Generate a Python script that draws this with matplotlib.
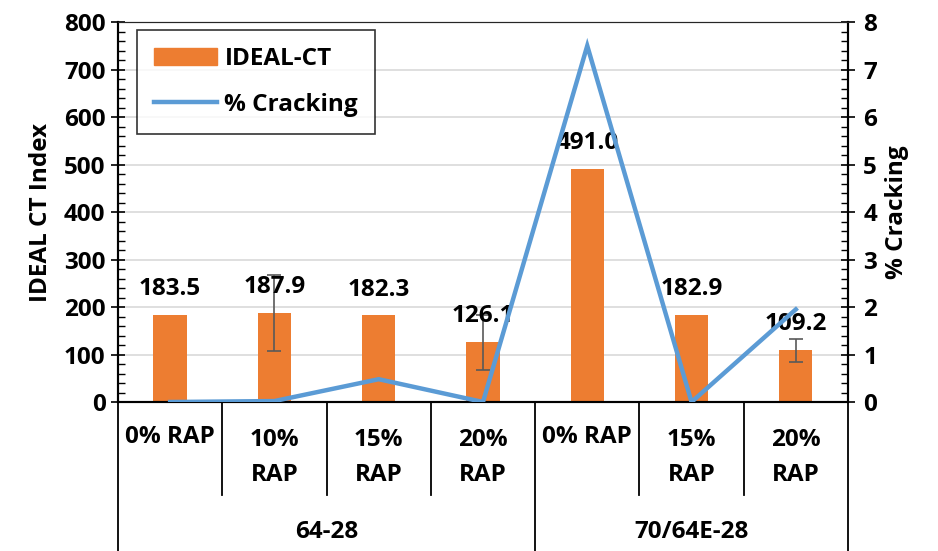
import matplotlib
matplotlib.use("Agg")
import matplotlib.pyplot as plt
from matplotlib.ticker import MultipleLocator
from matplotlib.lines import Line2D
from matplotlib.patches import Patch
import numpy as np

plt.rcParams['font.family'] = ['Open Sans', 'DejaVu Sans']
plt.rcParams['font.weight'] = 'bold'

categories = ["0% RAP", "10%\nRAP", "15%\nRAP", "20%\nRAP", "0% RAP", "15%\nRAP", "20%\nRAP"]
groups = ["64-28", "70/64E-28"]
group_sizes = [4, 3]
ideal_ct = [183.5, 187.9, 182.3, 126.1, 491.0, 182.9, 109.2]
ideal_err = [0, 80, 0, 58, 0, 0, 24]
cracking = [0.0, 0.02, 0.48, 0.0, 7.5, 0.0, 1.95]

orange = "#ED7D31"
blue = "#5B9BD5"
fs = 17.5

fig = plt.figure(figsize=(9.38, 5.51), dpi=100)
ax = fig.add_axes([0.1258, 0.2704, 0.9040 - 0.1258, 0.960 - 0.2704])
ax2 = ax.twinx()

x = np.arange(len(categories))
ax.bar(x, ideal_ct, width=0.32, color=orange, zorder=2)
for xi, v, e in zip(x, ideal_ct, ideal_err):
    if e > 0:
        ax.errorbar(xi, v, yerr=e, fmt='none', ecolor="#595959", elinewidth=1.2,
                    capsize=5, capthick=1.2, zorder=3)
    ax.annotate(f"{v:.1f}", (xi, v), xytext=(0, 10), textcoords='offset points',
                ha='center', va='bottom', fontsize=fs, fontweight='bold', zorder=5)

ax2.plot(x, cracking, color=blue, lw=3.2, solid_joinstyle='miter', zorder=4)

ax.set_xlim(-0.5, len(categories) - 0.5)
ax.set_ylim(0, 800)
ax2.set_ylim(0, 8)
ax.yaxis.set_major_locator(MultipleLocator(100))
ax.yaxis.set_minor_locator(MultipleLocator(20))
ax2.yaxis.set_major_locator(MultipleLocator(1))
ax2.yaxis.set_minor_locator(MultipleLocator(0.2))
ax.grid(axis='y', color='#D9D9D9', lw=1.2, zorder=0)
ax.set_axisbelow(True)

ax.tick_params(axis='y', which='major', direction='inout', length=10, width=1.2, labelsize=fs, pad=4)
ax.tick_params(axis='y', which='minor', direction='in', length=5, width=1)
ax2.tick_params(axis='y', which='major', direction='inout', length=10, width=1.2, labelsize=fs, pad=6)
ax2.tick_params(axis='y', which='minor', direction='in', length=5, width=1)
ax.set_xticks([])

for a in (ax, ax2):
    a.spines['top'].set_color('#262626')
    a.spines['left'].set_linewidth(1.5)
    a.spines['right'].set_linewidth(1.5)
    a.spines['bottom'].set_linewidth(1.5)

ax.set_ylabel("IDEAL CT Index", fontsize=fs, fontweight='bold', labelpad=8)
ax2.set_ylabel("% Cracking", fontsize=fs, fontweight='bold', labelpad=6)

# multi-level category axis
trans = ax.get_xaxis_transform()
for xi, lab in zip(x, categories):
    yy = -0.092 if "\n" not in lab else -0.147
    ax.text(xi, yy, lab, transform=trans, ha='center', va='center', fontsize=fs,
            fontweight='bold', linespacing=1.6)
bounds = np.cumsum([0] + group_sizes) - 0.5
for i in range(len(categories) + 1):
    b = i - 0.5
    ybot = -0.392 if b in bounds else -0.245
    ax.plot([b, b], [0, ybot], transform=trans, color='black', lw=1.3, clip_on=False)
for g, s, e in zip(groups, bounds[:-1], bounds[1:]):
    ax.text((s + e) / 2, -0.342, g, transform=trans, ha='center', va='center',
            fontsize=fs, fontweight='bold')

handles = [Patch(color=orange, label="IDEAL-CT"),
           Line2D([0], [0], color=blue, lw=3.2, label="% Cracking")]
leg = ax.legend(handles=handles, loc='upper left', bbox_to_anchor=(0.026, 0.979),
                borderaxespad=0, fontsize=fs, frameon=True, fancybox=False,
                edgecolor='black', borderpad=0.7, labelspacing=0.9,
                handlelength=2.6, handletextpad=0.3)
leg.get_frame().set_linewidth(1.2)
for t in leg.get_texts():
    t.set_fontweight('bold')

fig.savefig("out.png", dpi=100)
